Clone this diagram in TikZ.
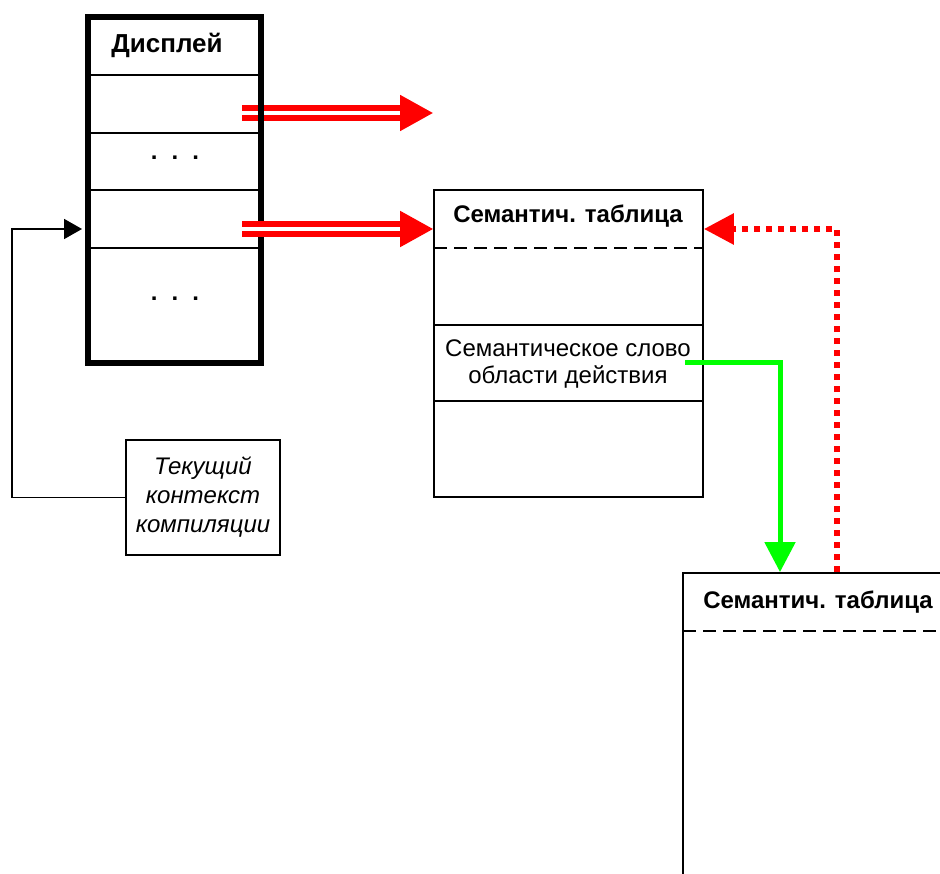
\documentclass[tikz,border=0pt]{standalone}
\usepackage{fontspec}
\setmainfont{Liberation Sans}
\usetikzlibrary{arrows.meta,positioning}
\definecolor{brightgreen}{RGB}{0,255,0}
\tikzset{
  txt/.style={font=\fontsize{24}{27}\selectfont, inner sep=0pt, align=center},
  titletxt/.style={txt, font=\fontsize{24}{27}\selectfont\bfseries},
  box/.style={draw, line width=1.8pt, inner sep=0pt},
  rowline/.style={line width=1.8pt},
  dashline/.style={line width=1.8pt, dash pattern=on 13pt off 7pt},
  dblarrow/.style={draw=red, double=white, line width=5.3pt, double distance=4.6pt,
    -{Triangle[length=33pt,width=35pt]}},
  dotarrow/.style={draw=red, line width=6pt, dash pattern=on 6pt off 6pt,
    -{Triangle[length=30pt,width=30pt,fill=red]}},
  grarrow/.style={draw=brightgreen, line width=5pt,
    -{Triangle[length=30pt,width=30pt]}},
  ctxline/.style={line width=1.8pt, -{Triangle[length=18pt,width=20pt]}}
}
\begin{document}
\begin{tikzpicture}[x=1pt,y=-1pt]
  \useasboundingbox (0,0) rectangle (940,874);
  \clip (0,0) rectangle (940,874);

  % points for the connectors
  \coordinate (r1s) at (242,113);
  \coordinate (r1e) at (433,113);
  \coordinate (r2s) at (242,229);
  \coordinate (ctxturn) at (12,229);
  \coordinate (grs) at (685,363);
  \coordinate (grturn) at (780,363);
  \coordinate (dotturn) at (837,229);

  % display
  \draw[rowline] (88,75) -- (261,75);
  \draw[rowline] (88,133) -- (261,133);
  \draw[rowline] (88,190) -- (261,190);
  \draw[rowline] (88,248) -- (261,248);
  \node[titletxt] (dots1) at (175,158) {.\hspace{14pt}.\hspace{14pt}.};
  \node[titletxt] (dots2) at (175,299) {.\hspace{14pt}.\hspace{14pt}.};
  \node[titletxt, font=\fontsize{26}{27}\selectfont\bfseries] (disptitle) at (167,45) {Дисплей};

  \draw[dblarrow] (r1s) -- (r1e);
  \node[box, line width=6pt, minimum width=173pt, minimum height=345.5pt] (disp) at (174.5,190.25) {};

  % first table
  \node[box, minimum width=269pt, minimum height=307pt] (tab1) at (568.5,343.5) {};
  \draw[dashline] (434,248) -- (703,248);
  \draw[rowline] (434,325) -- (703,325);
  \draw[rowline] (434,401) -- (703,401);
  \node[titletxt] (tab1title) at (568,216) {Семантич. таблица};
  \node[txt] (scope) at (568,364) {Семантическое слово\\области действия};

  % second table
  \node[box, minimum width=269pt, minimum height=307pt] (tab2) at (817.5,726.5) {};
  \draw[dashline] (683,631) -- (952,631);
  \node[titletxt] (tab2title) at (818,602) {Семантич. таблица};

  % compilation context
  \node[box, minimum width=154pt, minimum height=115pt, txt, font=\fontsize{24}{29}\selectfont\itshape] (ctx) at (203,497.5) {Текущий\\контекст\\компиляции};

  % connectors
  \draw[dblarrow] (r2s) -- (tab1.west |- r2s);
  \draw[ctxline] (ctx.west) -| (ctxturn) -- ([xshift=-3pt]disp.west |- ctxturn);
  \draw[grarrow] (grs) -- (grturn) -- (tab2.north -| grturn);
  \draw[dotarrow] (tab2.north -| dotturn) -- (dotturn) -- (tab1.east |- dotturn);
\end{tikzpicture}
\end{document}
